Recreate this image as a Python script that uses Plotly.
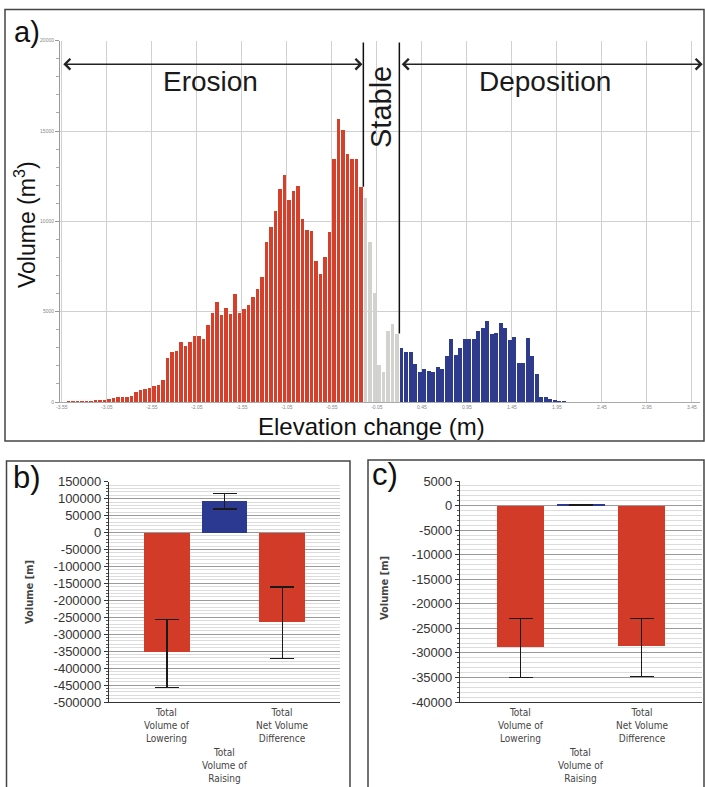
import numpy as np
import plotly.graph_objects as go

# ---------------- Panel a data: elevation-change histogram ----------------
bin_start = -3.55
bin_width = 0.05
stable_lo, stable_hi = -0.2, 0.2

erosion_volumes = [
    10, 20, 40, 45, 55, 70, 90, 110, 130, 150,
    185, 240, 300, 320, 320, 370, 590, 700, 760, 815,
    890, 945, 1260, 2480, 2780, 2850, 3330, 3110, 3330, 3670,
    3670, 3500, 4300, 4930, 5540, 4830, 5200, 4870, 6000, 4960,
    5170, 5390, 5850, 6260, 6960, 8870, 9690, 10610, 11780, 12610,
    11190, 11690, 12000, 10170, 9520, 9460, 7840, 7100, 8020, 9400,
    13450, 15710, 15100, 13730, 13450, 13450, 11920,
]
stable_volumes = [11330, 8850, 6040, 2040, 1670, 3970, 4340, 3790]
deposition_volumes = [
    3030, 2790, 2760, 2110, 1700, 1870, 1720, 1680, 1940, 1830,
    2550, 3530, 2640, 3030, 3530, 3500, 3480, 3960, 4090, 4510,
    3760, 3810, 4400, 4140, 3440, 3630, 2150, 2160, 3550, 2550,
    1540, 300, 300, 200, 110, 55, 20,
]
x_tick_vals = [-3.55, -3.05, -2.55, -2.05, -1.55, -1.05, -0.55, -0.05,
               0.45, 0.95, 1.45, 1.95, 2.45, 2.95, 3.45]
y_tick_vals_a = [0, 5000, 10000, 15000, 20000]

# ---------------- Panels b and c data ----------------
categories = ["Total<br>Volume of<br>Lowering", "Total<br>Volume of<br>Raising",
              "Total<br>Net Volume<br>Difference"]
b_values = [-353000, 93000, -263000]
b_err_plus = [97000, 22700, 103000]
b_err_minus = [104700, 23600, 108000]
b_colors = ["#D23B27", "#2B3990", "#D23B27"]
b_ticks = [150000, 100000, 50000, 0, -50000, -100000, -150000, -200000, -250000,
           -300000, -350000, -400000, -450000, -500000]

c_values = [-28740, 150, -28530]
c_err_plus = [5780, 60, 5570]
c_err_minus = [6310, 60, 6310]
c_colors = ["#D23B27", "#2B3990", "#D23B27"]
c_ticks = [5000, 0, -5000, -10000, -15000, -20000, -25000, -30000, -35000, -40000]

# ---------------- figure ----------------
W, H = 705, 787
def px(x):
    return x / W
def py(y):
    return 1 - y / H

n_e, n_s, n_d = len(erosion_volumes), len(stable_volumes), len(deposition_volumes)
centers = np.round(bin_start + bin_width * (np.arange(n_e + n_s + n_d) + 0.5), 4)
x_e = centers[:n_e]
x_s = centers[n_e:n_e + n_s]
x_d = centers[n_e + n_s:]

fig = go.Figure()
bw = bin_width * 0.84
fig.add_trace(go.Bar(x=x_e, y=erosion_volumes, width=bw, marker_color="#D6402B",
                     marker_line_width=0, xaxis="x", yaxis="y", showlegend=False))
fig.add_trace(go.Bar(x=x_s, y=stable_volumes, width=bw, marker_color="#D2D2CE",
                     marker_line_width=0, xaxis="x", yaxis="y", showlegend=False))
fig.add_trace(go.Bar(x=x_d, y=deposition_volumes, width=bw, marker_color="#2E3A8C",
                     marker_line_width=0, xaxis="x", yaxis="y", showlegend=False))

cat_x = [0, 1, 2]
fig.add_trace(go.Bar(x=cat_x, y=b_values, width=0.79, marker_color=b_colors,
                     marker_line_width=0,
                     error_y=dict(type="data", symmetric=False, array=b_err_plus,
                                  arrayminus=b_err_minus, color="#1a1a1a",
                                  thickness=1.5, width=12),
                     xaxis="x2", yaxis="y2", showlegend=False))
fig.add_trace(go.Bar(x=cat_x, y=c_values, width=0.79, marker_color=c_colors,
                     marker_line_width=0,
                     error_y=dict(type="data", symmetric=False, array=c_err_plus,
                                  arrayminus=c_err_minus, color="#1a1a1a",
                                  thickness=1.5, width=12),
                     xaxis="x3", yaxis="y3", showlegend=False))

tiny = dict(size=5, color="#888")
fig.update_layout(
    width=W, height=H, autosize=False,
    margin=dict(l=0, r=0, t=0, b=0, pad=0),
    paper_bgcolor="white", plot_bgcolor="white",
    font=dict(family="Liberation Sans, Arial, sans-serif", color="#222"),
    bargap=0,
    xaxis=dict(domain=[px(60), px(700)], range=[-3.57, 3.54], anchor="y",
               tickvals=x_tick_vals, ticktext=[f"{v:.2f}" for v in x_tick_vals],
               tickfont=tiny, showgrid=True, gridcolor="#d0d0d0", gridwidth=1,
               showline=True, linecolor="#aaa", zeroline=False, ticks="",
               automargin=False),
    yaxis=dict(domain=[py(402), py(40.7)], range=[0, 20000], anchor="x",
               tickvals=y_tick_vals_a, ticktext=[str(v) for v in y_tick_vals_a],
               tickfont=tiny, showgrid=True, gridcolor="#d0d0d0",
               showline=True, linecolor="#999", zeroline=False,
               ticks="outside", ticklen=4, tickcolor="#999", automargin=False,
               minor=dict(dtick=1000, ticks="outside", ticklen=3, tickcolor="#aaa",
                          showgrid=False)),
    xaxis2=dict(domain=[px(109), px(340)], range=[-1, 3], anchor="y2",
                showticklabels=False, showgrid=False, zeroline=False,
                showline=True, linecolor="#333", linewidth=1.2, ticks="",
                automargin=False),
    yaxis2=dict(domain=[py(702), py(481.7)], range=[-500000, 150000], anchor="x2",
                tickvals=b_ticks, ticktext=[str(v) for v in b_ticks],
                tickfont=dict(size=13, color="#333"),
                showgrid=True, gridcolor="#9a9a9a", zeroline=False,
                showline=True, linecolor="#333", linewidth=1.2,
                ticks="outside", ticklen=4, tickcolor="#333", automargin=False,
                minor=dict(dtick=10000, showgrid=True, gridcolor="#dcdcdc",
                           ticks="outside", ticklen=2, tickcolor="#555")),
    xaxis3=dict(domain=[px(460), px(702)], range=[-1, 3], anchor="y3",
                showticklabels=False, showgrid=False, zeroline=False,
                showline=True, linecolor="#333", linewidth=1.2, ticks="",
                automargin=False),
    yaxis3=dict(domain=[py(702), py(481)], range=[-40000, 5000], anchor="x3",
                tickvals=c_ticks, ticktext=[str(v) for v in c_ticks],
                tickfont=dict(size=13, color="#333"),
                showgrid=True, gridcolor="#9a9a9a", zeroline=False,
                showline=True, linecolor="#333", linewidth=1.2,
                ticks="outside", ticklen=4, tickcolor="#333", automargin=False,
                minor=dict(dtick=1000, showgrid=True, gridcolor="#dcdcdc",
                           ticks="outside", ticklen=2, tickcolor="#555")),
)

shapes = []
# panel borders
border = dict(type="rect", xref="paper", yref="paper", line=dict(color="#444", width=1.5))
shapes.append(dict(border, x0=px(5), x1=px(704), y0=py(441), y1=py(9.5)))
shapes.append(dict(border, x0=px(6.5), x1=px(350), y0=py(800), y1=py(461)))
shapes.append(dict(border, x0=px(368), x1=px(704), y0=py(800), y1=py(460)))
# stable boundaries
shapes.append(dict(type="line", xref="x", yref="y", x0=stable_lo, x1=stable_lo,
                   y0=erosion_volumes[-1], y1=19900, line=dict(color="#111", width=1.5)))
shapes.append(dict(type="line", xref="x", yref="y", x0=stable_hi, x1=stable_hi,
                   y0=stable_volumes[-1], y1=19900, line=dict(color="#111", width=1.5)))
fig.update_layout(shapes=shapes)

ann = []
arrow_y = 18700
for x0, x1 in [(-3.55, stable_lo - 0.01), (stable_hi + 0.01, 3.57)]:
    ann.append(dict(x=x1, y=arrow_y, ax=x0, ay=arrow_y, xref="x", yref="y",
                    axref="x", ayref="y", text="", showarrow=True,
                    arrowhead=4, startarrowhead=4, arrowside="end+start",
                    arrowsize=1.3, startarrowsize=1.3, arrowwidth=1.6, arrowcolor="#222"))

def label(x, y, text, font, angle=0):
    return dict(x=px(x), y=py(y), xref="paper", yref="paper", text=text,
                xanchor="center", yanchor="middle", showarrow=False,
                textangle=angle, font=font)

big = dict(family="Liberation Sans, Arial, sans-serif", size=28, color="#1a1a1a")
ann.append(label(210, 81, "Erosion", big))
ann.append(label(545, 81, "Deposition", big))
ann.append(label(381, 107, "Stable", dict(big, size=29), -90))
ann.append(label(27, 32, "a)", dict(size=29, color="#111")))
ann.append(label(27, 477, "b)", dict(size=31, color="#111")))
ann.append(label(385, 474, "c)", dict(size=31, color="#111")))
ann.append(label(25, 225, "Volume (m<sup>3</sup>)", dict(size=23, color="#111"), -90))
ann.append(label(371, 427, "Elevation change (m)", dict(size=24, color="#111")))
# panel b/c labels
small_title = dict(family="DejaVu Sans Condensed, sans-serif", size=11, color="#444")
ann.append(label(29, 592, "<b>Volume [m]</b>", small_title, -90))
ann.append(label(384, 588, "<b>Volume [m]</b>", small_title, -90))
catfont = dict(family="DejaVu Sans Condensed, sans-serif", size=10, color="#444")
for xa in ["x2", "x3"]:
    for i, lab in enumerate(categories):
        top = 705 if i != 1 else 745
        ann.append(dict(x=cat_x[i], y=py(top), xref=xa, yref="paper", text=lab,
                        xanchor="center", yanchor="top", showarrow=False,
                        font=catfont, align="center"))
fig.update_layout(annotations=ann)

fig.write_html("out.html", config={"displayModeBar": False},
               post_script="document.body.style.margin='0';"
                           "document.body.style.overflow='hidden';")
